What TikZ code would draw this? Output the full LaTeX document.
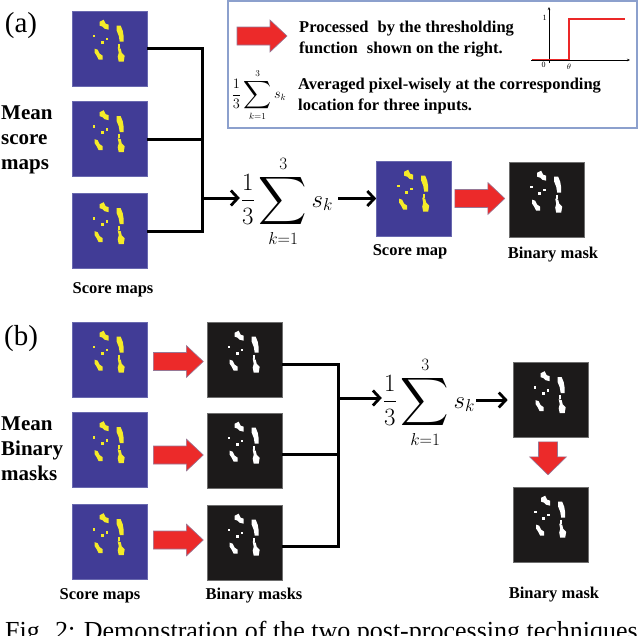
\documentclass[tikz,border=0pt]{standalone}
\usepackage{amsmath}
\usepackage{fontspec}
\setmainfont{Liberation Serif}
\usetikzlibrary{arrows.meta,calc}
\definecolor{mapblue}{RGB}{65,60,150}
\definecolor{mapedge}{RGB}{105,105,175}
\definecolor{maskblack}{RGB}{28,26,26}
\definecolor{maskedge}{RGB}{110,110,110}
\definecolor{blobyellow}{RGB}{245,235,40}
\definecolor{arrred}{RGB}{236,42,42}
\definecolor{arredge}{RGB}{150,120,150}
\definecolor{legedge}{RGB}{140,160,205}
\definecolor{stepred}{RGB}{235,40,40}

\newcommand{\bigsumop}{\mathop{\vcenter{\hbox{\scalebox{1.35}{$\displaystyle\sum$}}}}\limits}
\newcommand{\avgformula}{\frac{1}{3}\bigsumop_{k=1}^{3} s_k}

\newcommand{\spots}[2]{%
 \begin{scope}[shift={(#1.north west)}]
  \fill[#2] (28,11) -- (32,9) -- (34,13) -- (37,14) -- (37,19) -- (33,18) -- (31,16) -- (28,15) -- cycle;
  \fill[#2] (21,24) rectangle (23.5,26.5);
  \fill[#2] (29,30) rectangle (32,33);
  \fill[#2] (34,27) rectangle (36.5,29.5);
  \fill[#2] (45,15) -- (49,15) -- (51,20) -- (52,26) -- (52,31) -- (48,31) -- (47,25) -- (45,20) -- cycle;
  \fill[#2] (46.5,33) rectangle (48.5,37);
  \fill[#2] (23,38) -- (26,39) -- (28,43) -- (31,45) -- (31,49) -- (27,49) -- (25,45) -- (23,42) -- cycle;
  \fill[#2] (46,37) -- (49,38) -- (50,42) -- (53,45) -- (52,51) -- (47,51) -- (46,46) -- (47,42) -- cycle;
 \end{scope}}

\newcommand{\rarrowh}[1]{%
 \filldraw[redblock] (#1) ++(0,-9) -- ++(33,0) -- ++(0,-7) -- ++(17,16) -- ++(-17,16) -- ++(0,-7) -- ++(-33,0) -- cycle;}

\tikzset{
 scoremap/.style={minimum size=75pt, inner sep=0pt, fill=mapblue, draw=mapedge, line width=0.6pt},
 maskimg/.style={minimum size=75pt, inner sep=0pt, fill=maskblack, draw=maskedge, line width=0.6pt},
 redblock/.style={fill=arrred, draw=arredge, line width=0.6pt},
 conn/.style={line width=3pt},
 connarrow/.style={line width=3pt, -{Straight Barb[length=7pt,width=15pt,line width=2.8pt]}},
 lbl/.style={font=\bfseries\fontsize{16.5}{19}\selectfont, inner sep=0pt},
 side/.style={font=\bfseries\fontsize{21}{25}\selectfont, align=left, anchor=west, inner sep=0pt},
 legtext/.style={font=\bfseries\fontsize{16.5}{20.5}\selectfont, align=left, anchor=west, inner sep=0pt},
 panel/.style={font=\fontsize{29}{32}\selectfont, inner sep=0pt},
}

\begin{document}
\begin{tikzpicture}[x=1pt,y=-1pt]
\useasboundingbox (0,0) rectangle (640,635);
\fill[white] (0,0) rectangle (640,635);
\clip (0,0) rectangle (640,635);

% ---------- panel (a) ----------
\node[panel] (pa) at (21,26) {(a)};
\node[side] (meana) at (1,140) {Mean\\score\\maps};

\node[scoremap] (a1) at (109.5,48.5) {};
\node[scoremap] (a2) at (109.5,139) {};
\node[scoremap] (a3) at (109.5,231) {};
\spots{a1}{blobyellow}
\spots{a2}{blobyellow}
\spots{a3}{blobyellow}
\node[lbl] (la) at (113,290) {Score maps};

\coordinate (ja) at (202,198);
\draw[conn] (a1.east) -- (a1.east -| ja) -- (a3.east -| ja) -- (a3.east);
\draw[conn] (a2.east) -- (a2.east -| ja);

\node[inner sep=1pt] (fa) at (287,201) {\fontsize{26}{31}\selectfont $\displaystyle\avgformula$};
\draw[connarrow] (ja) -- (ja -| fa.west);

\node[scoremap] (sm) at (414,198.5) {};
\spots{sm}{blobyellow}
\node[maskimg] (bm) at (547,199.5) {};
\spots{bm}{white}
\draw[connarrow] ($(fa.east |- sm.west)+(4,0)$) -- (sm.west);
\coordinate (ra) at ($(sm.east)+(3,0)$);
\rarrowh{ra}
\node[lbl] (lsm) at (410,252) {Score map};
\node[lbl] (lbm) at (553,255) {Binary mask};

% ---------- legend ----------
\draw[legedge, line width=1.4pt] (228,1) rectangle (637,128);
\coordinate (rl) at (237,36);
\rarrowh{rl}
\node[legtext] (t1) at (299,39) {Processed\hspace{0.3em} by the thresholding\\function\hspace{0.3em} shown on the right.};
\node[inner sep=0pt] (lf) at (259,95) {\fontsize{13.5}{16}\selectfont $\displaystyle\avgformula$};
\node[legtext] (t2) at (298,96) {Averaged pixel-wisely at the corresponding\\location for three inputs.};
% threshold function
\draw[line width=0.5pt,-{Stealth[length=3pt,width=2.5pt]}] (549,63) -- (549,7);
\draw[line width=0.5pt,-{Stealth[length=3pt,width=2.5pt]}] (531,60) -- (630,60);
\draw[stepred, line width=1.3pt] (532,59.5) -- (569,59.5) -- (569,19) -- (625,19);
\node[font=\fontsize{8}{9}\selectfont, inner sep=0pt] (one) at (544.5,18) {1};
\node[font=\fontsize{8}{9}\selectfont, inner sep=0pt] (zero) at (543.5,65) {0};
\node[font=\fontsize{8}{9}\selectfont, inner sep=0pt] (theta) at (569,67) {$\theta$};

% ---------- panel (b) ----------
\node[panel] (pb) at (21,339) {(b)};
\node[side] (meanb) at (1,449) {Mean\\Binary\\masks};

\node[scoremap] (s1) at (109.5,359.5) {};
\node[scoremap] (s2) at (109.5,450) {};
\node[scoremap] (s3) at (109.5,542) {};
\spots{s1}{blobyellow}
\spots{s2}{blobyellow}
\spots{s3}{blobyellow}
\node[maskimg] (m1) at (244.5,359.5) {};
\node[maskimg] (m2) at (244.5,450.5) {};
\node[maskimg] (m3) at (244.5,542.5) {};
\spots{m1}{white}
\spots{m2}{white}
\spots{m3}{white}
\coordinate (r1) at ($(s1.east)+(6,2)$);
\coordinate (r2) at ($(s2.east)+(6,5)$);
\coordinate (r3) at ($(s3.east)+(6,-2)$);
\rarrowh{r1}
\rarrowh{r2}
\rarrowh{r3}

\coordinate (jb) at (338,398);
\draw[conn] ($(m1.east)+(0,5)$) -- ($(m1.east -| jb)+(0,5)$) -- ($(m3.east -| jb)+(0,4)$) -- ($(m3.east)+(0,4)$);
\draw[conn] ($(m2.east)+(0,3.5)$) -- ($(m2.east -| jb)+(0,3.5)$);

\node[inner sep=1pt] (fb) at (429,402) {\fontsize{24}{29}\selectfont $\displaystyle\avgformula$};
\draw[connarrow] (jb) -- (jb -| fb.west);

\node[maskimg] (f1) at (550.5,400) {};
\node[maskimg] (f2) at (551,524.5) {};
\spots{f1}{white}
\spots{f2}{white}
\draw[connarrow] (fb.east |- f1.west) -- ($(f1.west)+(-5,0)$);
\filldraw[redblock] ($(f1.south)+(-2.5,4)$) ++(-9.5,0) -- ++(0,15) -- ++(-9,0) -- ++(18.5,18) -- ++(18.5,-18) -- ++(-9,0) -- ++(0,-15) -- cycle;

\node[lbl] (lsb) at (100,596) {Score maps};
\node[lbl] (lmb) at (254,596) {Binary masks};
\node[lbl] (lfb) at (554,595) {Binary mask};

% ---------- caption (cut) ----------
\node[anchor=base west, inner sep=0pt, font=\fontsize{26}{30}\selectfont] (cap) at (5,639) {Fig. 2: Demonstration of the two post-processing techniques};
\end{tikzpicture}
\end{document}
